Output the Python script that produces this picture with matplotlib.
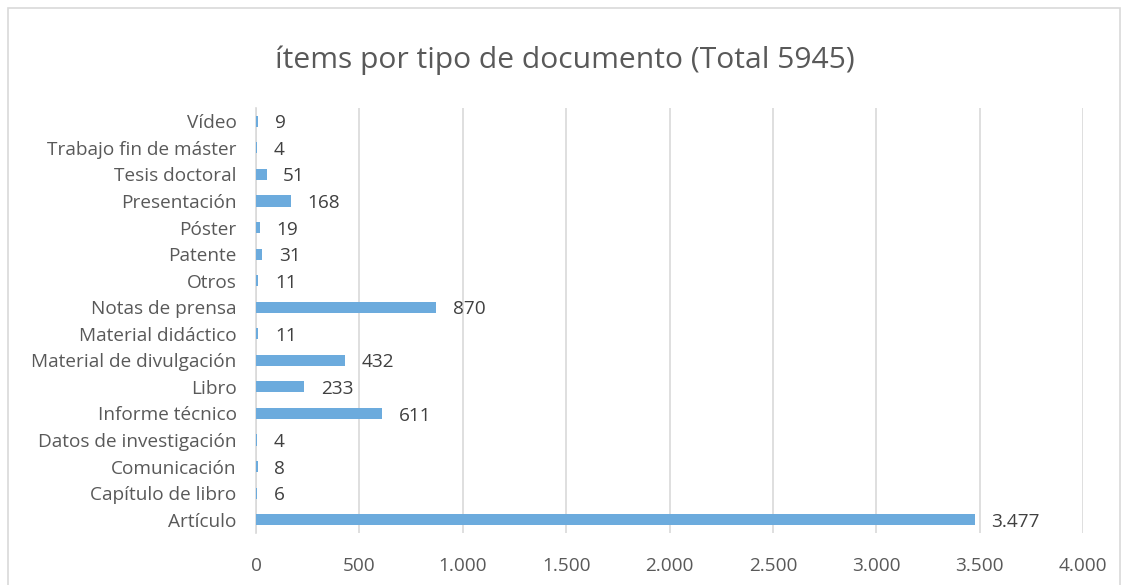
import matplotlib
matplotlib.use("Agg")
import matplotlib.pyplot as plt
from matplotlib.patches import Rectangle
from matplotlib.ticker import FuncFormatter

categories = ["Vídeo", "Trabajo fin de máster", "Tesis doctoral", "Presentación", "Póster",
              "Patente", "Otros", "Notas de prensa", "Material didáctico",
              "Material de divulgación", "Libro", "Informe técnico",
              "Datos de investigación", "Comunicación", "Capítulo de libro", "Artículo"]
values = [9, 4, 51, 168, 19, 31, 11, 870, 11, 432, 233, 611, 4, 8, 6, 3477]
xticks = [0, 500, 1000, 1500, 2000, 2500, 3000, 3500, 4000]
title = "ítems por tipo de documento (Total 5945)"

plt.rcParams['font.family'] = ['Open Sans', 'DejaVu Sans']
txt = '#595959'

def fmt(v):
    return f"{int(v):,}".replace(",", ".")

fig = plt.figure(figsize=(11.3, 5.85), dpi=100)
ax = fig.add_axes([256/1130, 1-533/585, (1083-256)/1130, (533-108)/585])

ypos = list(range(len(categories)))
ax.barh(ypos, values, height=0.42, color='#6CABDD', zorder=3)
ax.set_ylim(len(categories)-0.5, -0.5)
ax.set_xlim(0, 4000)
ax.set_yticks(ypos)
ax.set_yticklabels(categories, fontsize=13.7, color=txt)
ax.set_xticks(xticks)
ax.xaxis.set_major_formatter(FuncFormatter(lambda v, p: fmt(v)))
ax.tick_params(axis='x', labelsize=13.7, colors=txt, length=0, pad=17)
ax.tick_params(axis='y', length=0, pad=14)
ax.grid(axis='x', color='#D9D9D9', linewidth=1.2, zorder=0)
for s in ['top', 'right', 'bottom']:
    ax.spines[s].set_visible(False)
ax.spines['left'].set_color('#D9D9D9')
ax.spines['left'].set_linewidth(1.2)

for y, v in zip(ypos, values):
    ax.annotate(fmt(v), (v, y), xytext=(12, -1.5), textcoords='offset points',
                va='center', ha='left', fontsize=13.7, color='#404040')

fig.text(0.5, 1-60/585, title, ha='center', va='center', fontsize=21.6, color=txt)
fig.patches.append(Rectangle((8/1130, -0.01), 1112/1130, 1-8/585+0.01, transform=fig.transFigure,
                             fill=False, edgecolor='#D9D9D9', linewidth=1.2))
fig.savefig("out.png", dpi=100)
